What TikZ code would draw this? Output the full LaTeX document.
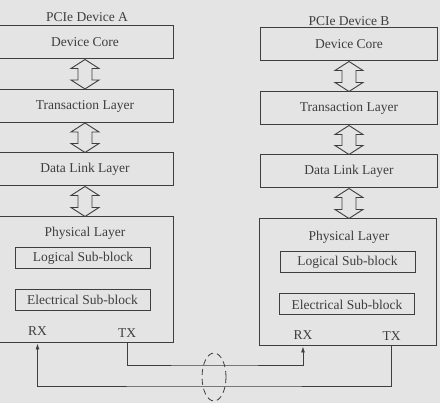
\documentclass[tikz,border=0pt]{standalone}
\usepackage{fontspec}
\setmainfont{Liberation Serif}
\usetikzlibrary{arrows.meta,calc,shapes.geometric}
\definecolor{paper}{RGB}{228,228,228}
\definecolor{ink}{RGB}{62,62,62}

\begin{document}
\begin{tikzpicture}[x=1pt, y=-1pt, font=\fontsize{13.5}{16}\selectfont]
  \tikzset{
    layer/.style={draw=ink, line width=1pt, minimum width=177pt, minimum height=33pt, inner sep=0pt, text=ink},
    subblock/.style={draw=ink, line width=1pt, minimum width=135pt, minimum height=21pt, inner sep=0pt, text=ink},
    lbl/.style={text=ink, inner sep=0pt},
    fat/.style={draw=ink, line width=0.9pt, fill=paper, line join=miter},
    wire/.style={draw=ink, line width=0.8pt, -{Latex[length=6pt, width=4pt]}},
  }

  \fill[paper] (0,0) rectangle (440,403);
  \useasboundingbox (0,0) rectangle (440,403);
  \clip (0,0) rectangle (440,403);

  % titles
  \node[lbl] (A-title) at (87,17) {PCIe Device A};
  \node[lbl] (B-title) at (349,21) {PCIe Device B};

  % upper layers
  \foreach \n/\t/\ya/\yb in {
    core/Device Core/42.5/44.5,
    trans/Transaction Layer/106/108.5,
    dll/Data Link Layer/169.5/171.5
  }{
    \node[layer] (A-\n) at (85,\ya) {\t};
    \node[layer] (B-\n) at (349,\yb) {\t};
  }

  % physical layer
  \node[layer, minimum height=126pt] (A-phys) at (84.5,280) {};
  \node[layer, minimum height=127pt] (B-phys) at (348,282.5) {};
  \node[lbl] (A-physlbl) at (85,233) {Physical Layer};
  \node[lbl] (B-physlbl) at (349,237) {Physical Layer};

  \node[subblock] (A-log) at (83,258.5) {Logical Sub-block};
  \node[subblock] (A-ele) at (82.5,300) {Electrical Sub-block};
  \node[subblock] (B-log) at (347.5,262.5) {Logical Sub-block};
  \node[subblock] (B-ele) at (347,304.5) {Electrical Sub-block};

  \node[lbl] (A-rx) at (37.5,331) {RX};
  \node[lbl] (A-tx) at (127,333) {TX};
  \node[lbl] (B-rx) at (303,335) {RX};
  \node[lbl] (B-tx) at (391.5,336) {TX};

  % hollow double arrows between layers
  \foreach \u/\l in {A-core/A-trans, A-trans/A-dll, A-dll/A-phys,
                     B-core/B-trans, B-trans/B-dll, B-dll/B-phys}
    \path[fat] let \p1=(\u.south), \p2=(\l.north) in
      (\x1,\y1) -- ++(14,9) -- ++(-7,0) -- (\x1+7pt,\y2+9pt) -- ++(7,0)
      -- (\x1,\y2) -- ++(-14,-9) -- ++(7,0) -- (\x1-7pt,\y1-9pt) -- ++(-7,0) -- cycle;

  % link
  \coordinate (busT) at (214,365);
  \coordinate (busR) at (214,386);
  \draw[wire] (A-tx |- A-phys.south) |- (busT) -| (B-rx |- B-phys.south);
  \draw[wire] (B-tx |- B-phys.south) |- (busR) -| (A-rx |- A-phys.south);

  \node[draw=ink, line width=0.8pt, dash pattern=on 6pt off 4pt, ellipse,
        minimum width=24pt, minimum height=48pt] (pair) at (214,377) {};
\end{tikzpicture}
\end{document}
